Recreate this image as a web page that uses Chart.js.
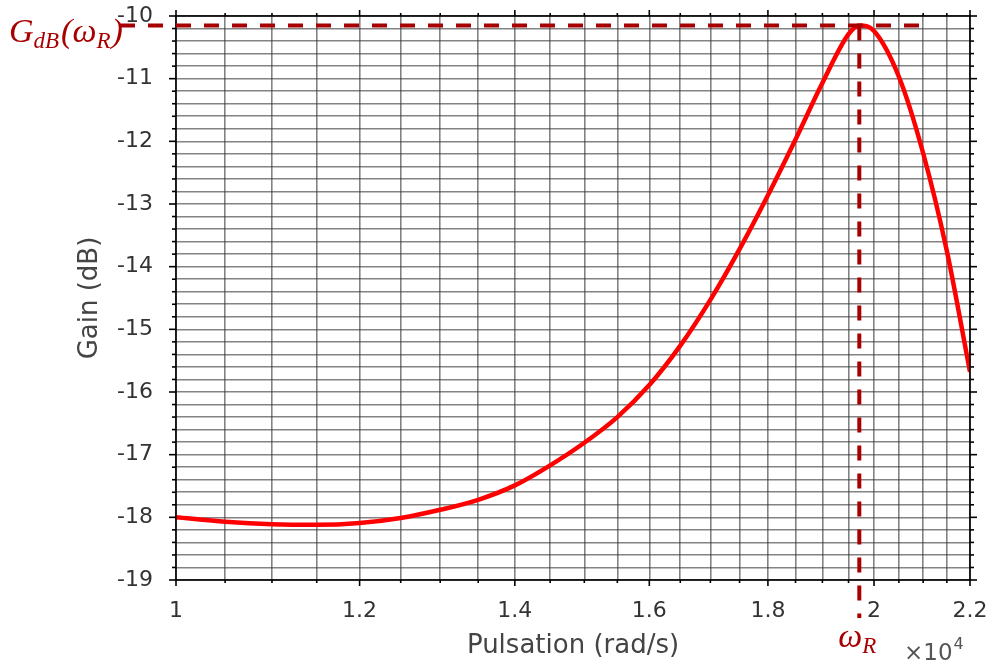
<!DOCTYPE html>
<html>
<head>
<meta charset="utf-8">
<script src="https://cdn.jsdelivr.net/npm/chart.js@4/dist/chart.umd.min.js"></script>
<style>
  html, body { margin: 0; padding: 0; background: #fff; }
  #wrap { width: 986px; height: 663px; position: relative; }
</style>
</head>
<body>
<div id="wrap"><canvas id="gainChart"></canvas></div>
<script>
/* ── Data ── */
var omega = [10000, 10500, 11000, 11500, 12000, 12500, 13000, 13500, 14000, 14500,
             15000, 15500, 16000, 16500, 17000, 17500, 18000, 18500, 19000, 19500,
             19710, 20000, 20500, 21000, 21500, 22000];
var gainDb = [-18.00, -18.07, -18.11, -18.12, -18.09, -18.01, -17.88, -17.72, -17.49, -17.17,
              -16.81, -16.40, -15.89, -15.26, -14.53, -13.72, -12.86, -11.97, -11.07, -10.29,
              -10.15, -10.24, -10.97, -12.19, -13.75, -15.68];

var xGridTicks = [10000, 10500, 11000, 11500, 12000, 12500, 13000, 13500, 14000, 14500,
                  15000, 15500, 16000, 16500, 17000, 17500, 18000, 18500, 19000, 19500,
                  20000, 20500, 21000, 21500, 22000];
var xMajorTicks = [10000, 12000, 14000, 16000, 18000, 20000, 22000];
var xTickLabels = ['1', '1.2', '1.4', '1.6', '1.8', '2', '2.2'];

var yMajorTicks = [-19, -18, -17, -16, -15, -14, -13, -12, -11, -10];
var yTickLabels = ['-19', '-18', '-17', '-16', '-15', '-14', '-13', '-12', '-11', '-10'];
var ySubdivisions = 5;

// resonance marker
var peakOmega = 19710;
var peakGain = -10.15;
var hLineEndOmega = 21000;

var gridColor = 'rgba(55,55,55,0.62)';
var markColor = '#a80000';

/* ── Axis decoration + annotations ── */
function seg(ctx, x1, y1, x2, y2) {
  ctx.beginPath();
  ctx.moveTo(x1, y1);
  ctx.lineTo(x2, y2);
  ctx.stroke();
}

var decor = {
  id: 'decor',
  afterDraw: function(chart) {
    var ctx = chart.ctx;
    var a = chart.chartArea;
    var xs = chart.scales.x, ys = chart.scales.y;
    ctx.save();

    // frame
    ctx.strokeStyle = '#000';
    ctx.lineWidth = 1.6;
    ctx.strokeRect(a.left, a.top, a.right - a.left, a.bottom - a.top);

    // outward tick marks
    xs.ticks.forEach(function(t) {
      var px = xs.getPixelForValue(t.value);
      var len = xMajorTicks.indexOf(t.value) >= 0 ? 6 : 3;
      seg(ctx, px, a.bottom, px, a.bottom + len);
      seg(ctx, px, a.top, px, a.top - len);
    });
    ys.ticks.forEach(function(t) {
      var py = ys.getPixelForValue(t.value);
      var len = yMajorTicks.indexOf(t.value) >= 0 ? 7 : 4;
      seg(ctx, a.left, py, a.left - len, py);
      seg(ctx, a.right, py, a.right + len, py);
    });

    // dashed resonance lines
    var px = xs.getPixelForValue(peakOmega);
    var py = ys.getPixelForValue(peakGain);
    ctx.strokeStyle = markColor;
    ctx.lineWidth = 4;
    ctx.setLineDash([15, 13]);
    seg(ctx, a.left - 56, py, xs.getPixelForValue(hLineEndOmega), py);
    seg(ctx, px, py, px, a.bottom + 38);
    ctx.setLineDash([]);

    // G_dB(ω_R)
    ctx.fillStyle = markColor;
    ctx.textBaseline = 'alphabetic';
    ctx.textAlign = 'left';
    var big = 'italic 34px "Liberation Serif"';
    var small = 'italic 23px "Liberation Serif"';
    var x = 9, base = 42;
    ctx.font = big; ctx.fillText('G', x, base); x += ctx.measureText('G').width;
    ctx.font = small; ctx.fillText('dB', x, base + 6); x += ctx.measureText('dB').width + 2;
    ctx.font = big; ctx.fillText('(\u03c9', x, base); x += ctx.measureText('(\u03c9').width;
    ctx.font = small; ctx.fillText('R', x, base + 6); x += ctx.measureText('R').width + 1;
    ctx.font = big; ctx.fillText(')', x, base);

    // ω_R under the axis
    x = px - 21; base = 647;
    ctx.font = big; ctx.fillText('\u03c9', x, base); x += ctx.measureText('\u03c9').width;
    ctx.font = small; ctx.fillText('R', x, base + 6);

    // ×10^4 multiplier
    ctx.fillStyle = '#555';
    ctx.font = '23px "DejaVu Sans"';
    x = 904; base = 660;
    ctx.fillText('\u00d710', x, base); x += ctx.measureText('\u00d710').width + 1;
    ctx.font = '16px "DejaVu Sans"';
    ctx.fillText('4', x, base - 11);

    ctx.restore();
  }
};

/* ── Chart ── */
var points = omega.map(function(w, i) { return { x: w, y: gainDb[i] }; });

new Chart(document.getElementById('gainChart'), {
  type: 'line',
  data: {
    datasets: [{
      data: points,
      borderColor: '#ff0000',
      borderWidth: 4.5,
      pointRadius: 0,
      fill: false,
      cubicInterpolationMode: 'monotone'
    }]
  },
  options: {
    responsive: true,
    maintainAspectRatio: false,
    animation: false,
    layout: { padding: { top: 16, right: 16, left: 0, bottom: 0 } },
    plugins: { legend: { display: false }, tooltip: { enabled: false } },
    scales: {
      x: {
        type: 'logarithmic',
        min: 10000,
        max: 22000,
        afterBuildTicks: function(s) {
          s.ticks = xGridTicks.map(function(v) { return { value: v }; });
        },
        afterFit: function(s) {
          s.height = 83;
          s.paddingLeft = 0; s.paddingRight = 0;
        },
        border: { display: false },
        grid: { color: gridColor, lineWidth: 1.6, drawTicks: false },
        ticks: {
          autoSkip: false,
          maxRotation: 0,
          padding: 18,
          color: '#333',
          font: { family: 'DejaVu Sans', size: 22 },
          callback: function(v) {
            var i = xMajorTicks.indexOf(v);
            return i >= 0 ? xTickLabels[i] : '';
          }
        },
        title: {
          display: true,
          text: 'Pulsation (rad/s)',
          color: '#444',
          font: { family: 'DejaVu Sans', size: 26 },
          padding: { top: 0, bottom: 1 }
        }
      },
      y: {
        min: -19,
        max: -10,
        afterBuildTicks: function(s) {
          var t = [];
          for (var i = 0; i < yMajorTicks.length - 1; i++) {
            for (var k = 0; k < ySubdivisions; k++) {
              var v = yMajorTicks[i] + k * (yMajorTicks[i + 1] - yMajorTicks[i]) / ySubdivisions;
              t.push({ value: Math.round(v * 100) / 100 });
            }
          }
          t.push({ value: yMajorTicks[yMajorTicks.length - 1] });
          s.ticks = t;
        },
        afterFit: function(s) {
          s.width = 176;
          s.paddingTop = 0; s.paddingBottom = 0;
        },
        border: { display: false },
        grid: { color: gridColor, lineWidth: 1.6, drawTicks: false },
        ticks: {
          autoSkip: false,
          padding: 23,
          color: '#333',
          font: { family: 'DejaVu Sans', size: 22 },
          callback: function(v) {
            var i = yMajorTicks.indexOf(v);
            return i >= 0 ? yTickLabels[i] : '';
          }
        },
        title: {
          display: true,
          text: 'Gain (dB)',
          color: '#444',
          font: { family: 'DejaVu Sans', size: 26 },
          padding: { top: 75, bottom: 0 }
        }
      }
    }
  },
  plugins: [decor]
});
</script>
</body>
</html>
